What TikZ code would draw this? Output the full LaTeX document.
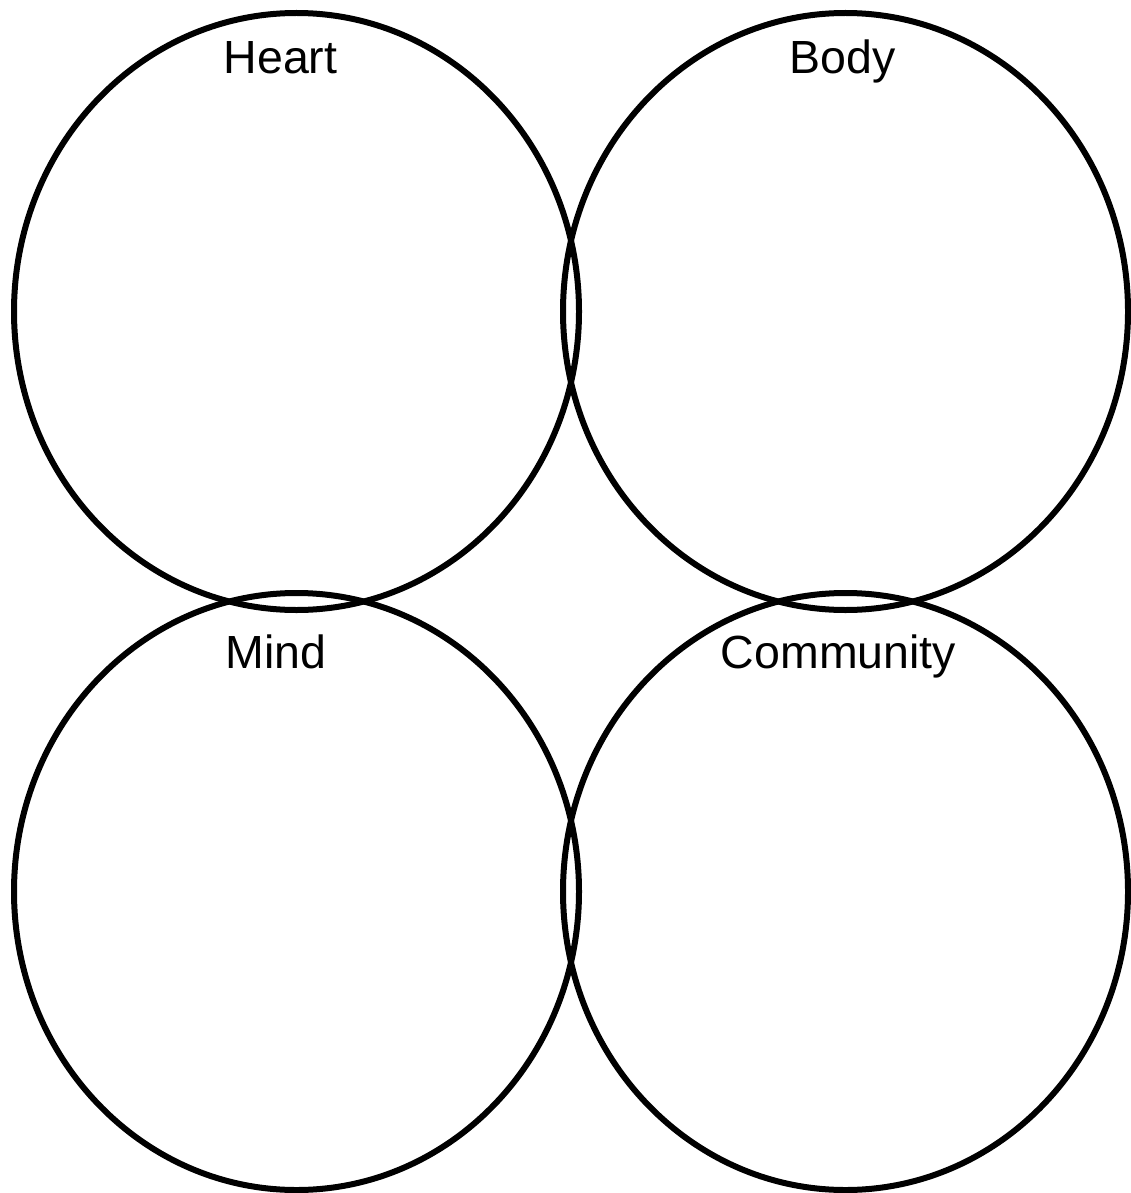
\documentclass[tikz,border=0pt]{standalone}
\usepackage{fontspec}
\setmainfont{Liberation Sans}
\usetikzlibrary{shapes.geometric}
\begin{document}
\begin{tikzpicture}[x=1pt,y=-1pt,
  ring/.style={draw=black, line width=6pt, ellipse, minimum width=565pt, minimum height=597pt, inner sep=0pt},
  lbl/.style={anchor=base, inner sep=0pt, font=\fontsize{46.5}{55}\selectfont}]
\useasboundingbox (0,0) rectangle (1130,1193);
\node[ring] (heart) at (296.5,311.5) {};
\node[ring] (body) at (845.5,311.5) {};
\node[ring] (mind) at (296.5,891.5) {};
\node[ring] (comm) at (845.5,891.5) {};
\node[lbl] (theart) at (280.5,74) {Heart};
\node[lbl] (tbody) at (842.5,74) {Body};
\node[lbl] (tmind) at (276,668) {Mind};
\node[lbl] (tcomm) at (838.5,668) {Community};
\end{tikzpicture}
\end{document}
